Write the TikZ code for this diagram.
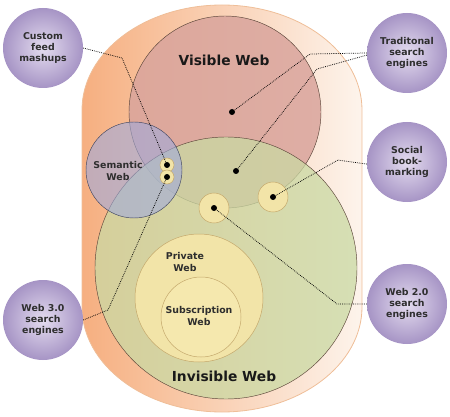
\documentclass[tikz,border=0pt]{standalone}
\usepackage{fontspec}
\setmainfont{DejaVu Sans}
\begin{document}
\begin{tikzpicture}[x=1pt,y=-1pt,
  ball/.style={circle,minimum size=80pt,inner sep=0pt,shading=radial,inner color=ballin,outer color=ballout,align=center,text=balltext,font=\bfseries\fontsize{9.4}{11.3}\selectfont},
  lbl/.style={align=center,text=balltext,font=\bfseries\fontsize{9.4}{11.3}\selectfont,inner sep=0pt},
  big/.style={text=black!90,font=\bfseries\fontsize{13.8}{16}\selectfont,inner sep=0pt},
  blob/.style={circle,fill=black,minimum size=6pt,inner sep=0pt},
  conn/.style={draw=black,line width=0.75pt,dash pattern=on 0.75pt off 1.1pt},
  ring/.style={draw=ringline,line width=0.45pt}]
\definecolor{ballin}{HTML}{E4DCEF}
\definecolor{ballout}{HTML}{A694C5}
\definecolor{balltext}{HTML}{2E2E2E}
\definecolor{capl}{HTML}{F6AF80}
\definecolor{capr}{HTML}{FDF4EC}
\definecolor{capline}{HTML}{EFBE98}
\definecolor{redw}{HTML}{D9A49C}
\definecolor{greenw}{HTML}{CAD9A3}
\definecolor{bluew}{HTML}{A0AADC}
\definecolor{yel}{HTML}{F2E4A8}
\definecolor{yel2}{HTML}{F5E8AE}
\definecolor{ringline}{HTML}{5A4438}
\definecolor{yline}{HTML}{C4A86C}
\definecolor{blueline}{HTML}{3E4460}
\useasboundingbox (0,0) rectangle (450,417);
% outer capsule
\draw[capline,line width=0.8pt,left color=capl,right color=capr]
  (82,110) arc[start angle=180,end angle=360,x radius=140,y radius=105]
  -- (362,307) arc[start angle=0,end angle=180,x radius=140,y radius=105] -- cycle;
% visible web
\draw[ring,fill=redw,fill opacity=0.85] (225,112) circle[radius=96];
% invisible web
\draw[ring,fill=greenw,fill opacity=0.75] (226,268) circle[radius=131];
% semantic web
\draw[draw=blueline,line width=0.45pt,fill=bluew,fill opacity=0.6] (134,170) circle[radius=48];
% private / subscription
\draw[draw=yline,line width=0.5pt,fill=yel] (199,298) circle[radius=64];
\draw[draw=yline,line width=0.5pt,fill=yel2] (201,317) circle[radius=40];
% small circles
\draw[draw=yline,line width=0.5pt,fill=yel] (167,165) circle[radius=7];
\draw[draw=yline,line width=0.5pt,fill=yel] (167,177) circle[radius=7];
\draw[draw=yline,line width=0.5pt,fill=yel] (214,208) circle[radius=15];
\draw[draw=yline,line width=0.5pt,fill=yel] (273,197) circle[radius=15];
% labels
\node[big] (vis) at (224,60) {Visible Web};
\node[big] (invis) at (224,376) {Invisible Web};
\node[lbl] (sem) at (118,171) {Semantic\\Web};
\node[lbl] (priv) at (185,262) {Private\\Web};
\node[lbl] (subs) at (199,316) {Subscription\\Web};
% dots
\node[blob] (d1) at (232,112) {};
\node[blob] (d2) at (236,171) {};
\node[blob] (d3) at (167,165) {};
\node[blob] (d4) at (167,177) {};
\node[blob] (d5) at (214,208) {};
\node[blob] (d6) at (273,197) {};
% balls
\node[ball] (cf) at (43,48) {Custom\\feed\\mashups};
\node[ball] (ts) at (407,53) {Traditonal\\search\\engines};
\node[ball] (sb) at (407,162) {Social\\book-\\marking};
\node[ball] (w3) at (43,320) {Web 3.0\\search\\engines};
\node[ball] (w2) at (407,304) {Web 2.0\\search\\engines};
% bend points
\coordinate (c1) at (122,58);
\coordinate (c2) at (310,54);
\coordinate (c3) at (317,69);
\coordinate (c4) at (338,160);
\coordinate (c5) at (337,304);
\coordinate (c6) at (108,310);
% connectors
\draw[conn] (cf.east) -- (c1) -- (d3.center);
\draw[conn] (ts.180) -- (c2) -- (d1.center);
\draw[conn] (ts.183) -- (c3) -- (d2.center);
\draw[conn] (sb.183) -- (c4) -- (d6.center);
\draw[conn] (w2.west) -- (c5) -- (d5.center);
\draw[conn] (w3.east) -- (c6) -- (d4.center);
\end{tikzpicture}
\end{document}
